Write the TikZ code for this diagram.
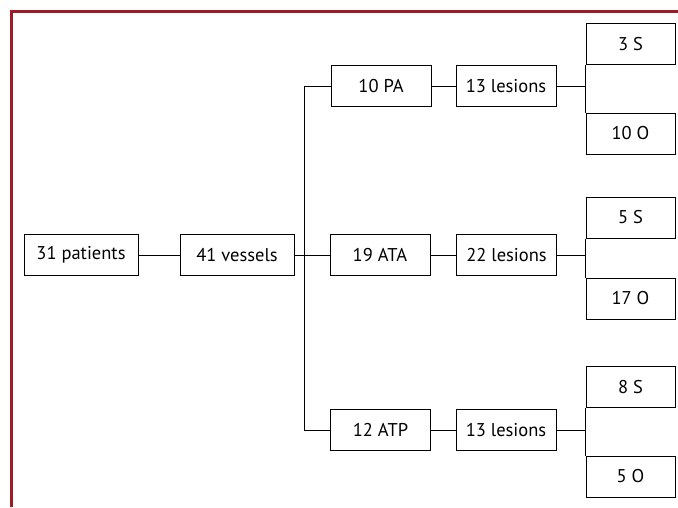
\documentclass[tikz,border=0pt]{standalone}
\usepackage{fontspec}
\setmainfont{PT Sans}
\definecolor{framered}{RGB}{158,27,35}
\begin{document}
\begin{tikzpicture}[x=1pt,y=-1pt,
  box/.style={draw=black,line width=1pt,minimum height=41pt,inner sep=0pt,
    font=\fontsize{18.5}{22}\selectfont},
  wbox/.style={box,minimum width=114pt},
  mbox/.style={box,minimum width=100pt},
  sbox/.style={box,minimum width=89pt},
  conn/.style={draw=black,line width=1pt}]
\useasboundingbox (0,0) rectangle (678,507);
\draw[framered,line width=2.5pt,line join=miter] (11.5,507) -- (11.5,11.5) -- (678,11.5);
\node[wbox] (pat) at (81,255) {31 patients};
\node[wbox] (ves) at (237,255) {41 vessels};
\node[mbox] (pa) at (381,86) {10 PA};
\node[mbox] (ata) at (380,255) {19 ATA};
\node[mbox] (atp) at (380.5,430) {12 ATP};
\node[mbox] (l1) at (506,86) {13 lesions};
\node[mbox] (l2) at (506.5,255) {22 lesions};
\node[mbox] (l3) at (506,430) {13 lesions};
\node[sbox] (s1) at (630.5,44) {3 S};
\node[sbox] (o1) at (630.5,133.5) {10 O};
\node[sbox] (s2) at (630.5,217.5) {5 S};
\node[sbox] (o2) at (630.5,298.5) {17 O};
\node[sbox] (s3) at (630.5,387) {8 S};
\node[sbox] (o3) at (630.5,476.5) {5 O};
\coordinate (tt) at (304,86);
\coordinate (tb) at (304,430);
\draw[conn] (pat.east) -- (ves.west);
\draw[conn] (ves.east) -- (ata.west);
\draw[conn] (tt) -- (tb);
\draw[conn] (tt) -- (pa.west);
\draw[conn] (tb) -- (atp.west);
\draw[conn] (pa.east) -- (l1.west);
\draw[conn] (ata.east) -- (l2.west);
\draw[conn] (atp.east) -- (l3.west);
\draw[conn] (l1.east) -- (l1.east -| s1.west);
\draw[conn] (l2.east) -- (l2.east -| s2.west);
\draw[conn] (l3.east) -- (l3.east -| s3.west);
\draw[conn] (s1.south west) -- (o1.north west);
\draw[conn] (s2.south west) -- (o2.north west);
\draw[conn] (s3.south west) -- (o3.north west);
\end{tikzpicture}
\end{document}
